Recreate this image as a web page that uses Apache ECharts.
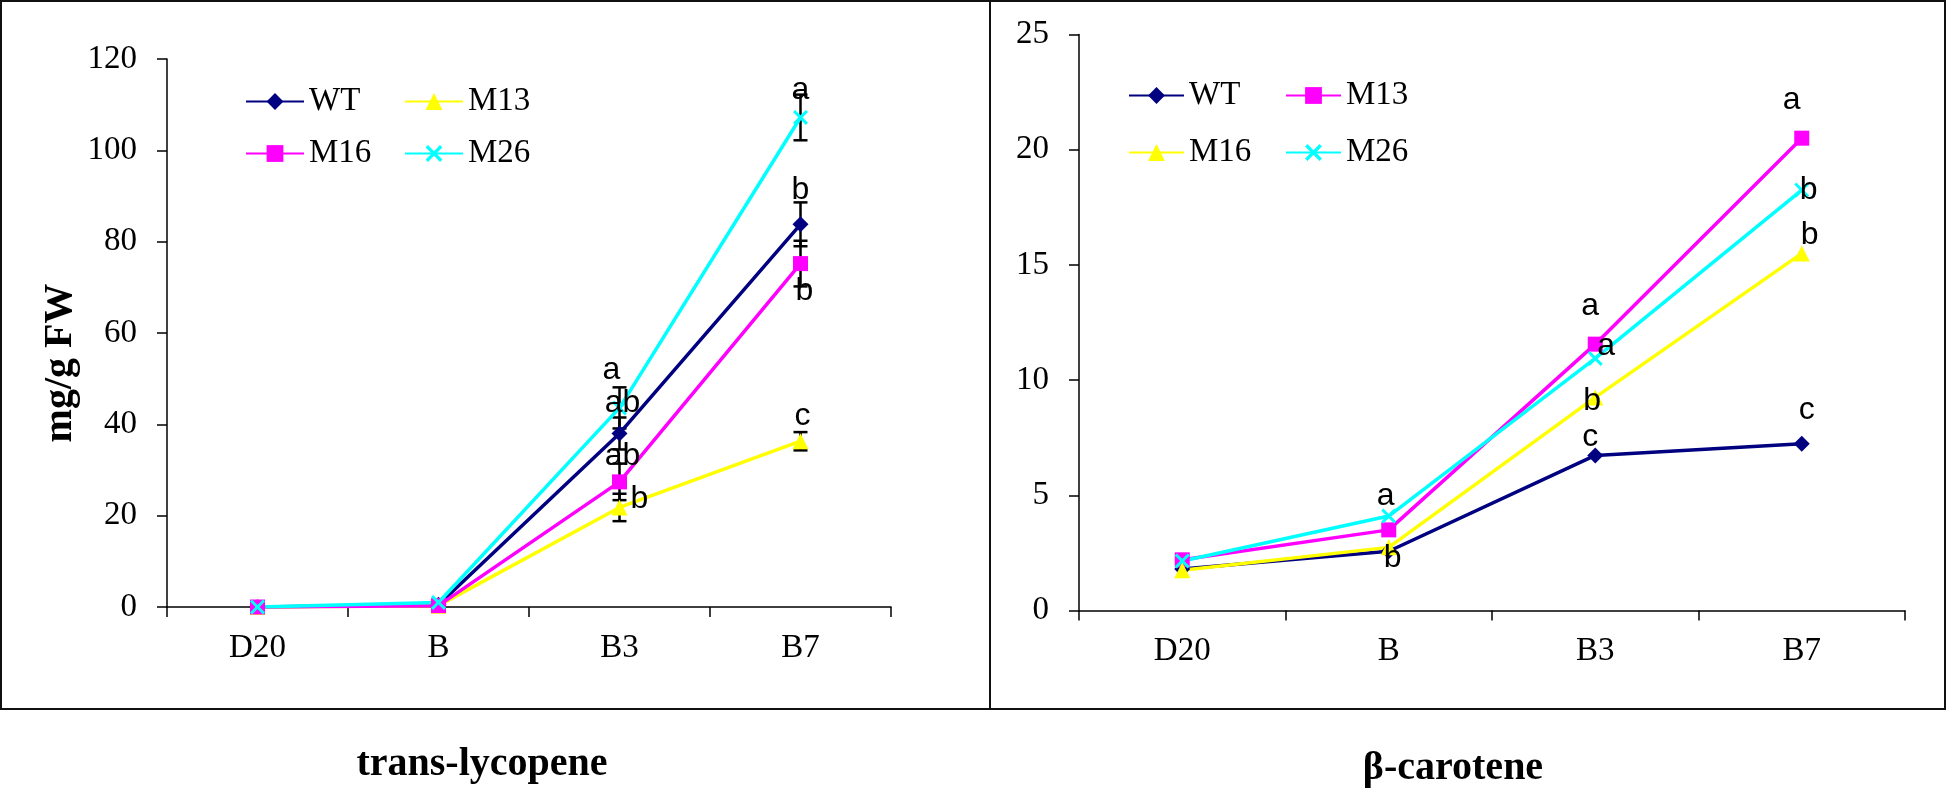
<!DOCTYPE html>
<html>
<head>
<meta charset="utf-8">
<script src="https://cdn.jsdelivr.net/npm/echarts@6/dist/echarts.min.js"></script>
<style>
  html, body { margin: 0; padding: 0; background: #fff; }
  #chart { width: 1947px; height: 793px; }
</style>
</head>
<body>
<div id="chart"></div>
<script>
// ---------------- DATA ----------------
const categories = ['D20', 'B', 'B3', 'B7'];

// trans-lycopene (mg/g FW)
const lycWT  = [0, 0.5, 38.0, 83.8];
const lycM13 = [0, 0.3, 21.8, 36.3];
const lycM16 = [0, 0.3, 27.4, 75.2];
const lycM26 = [0, 1.0, 43.6, 107.2];
const lycErrWT  = [0, 0, 3.5, 4.8];
const lycErrM13 = [0, 0, 3.0, 2.0];
const lycErrM16 = [0, 0, 4.0, 5.0];
const lycErrM26 = [0, 0, 4.5, 5.0];
const lycLetWT  = ['', '', 'ab', 'b'];
const lycLetM13 = ['', '', 'b', 'c'];
const lycLetM16 = ['', '', 'ab', 'b'];
const lycLetM26 = ['', '', 'a', 'a'];
const lycTicks = { min: 0, max: 120, interval: 20 };

// beta-carotene
const carWT  = [1.8, 2.57, 6.73, 7.24];
const carM13 = [2.2, 3.5, 11.56, 20.5];
const carM16 = [1.75, 2.74, 9.25, 15.5];
const carM26 = [2.15, 4.1, 10.94, 18.25];
const carLetWT  = ['', 'b', 'c', 'c'];
const carLetM13 = ['', '', 'a', 'a'];
const carLetM16 = ['', '', 'b', 'b'];
const carLetM26 = ['', 'a', 'a', 'b'];
const carTicks = { min: 0, max: 25, interval: 5 };

const seriesNames = ['WT', 'M13', 'M16', 'M26'];
const titleLyc = 'trans-lycopene';
const titleCar = 'β-carotene';
const yName = 'mg/g FW';

// ---------------- STYLE / LAYOUT ----------------
const SERIF = '"Liberation Serif", "Times New Roman", serif';
const SANS = '"Liberation Sans", Arial, sans-serif';
const NAVY = '#000080', YELLOW = '#FFFF00', MAGENTA = '#FF00FF', CYAN = '#00FFFF';
const XSYM = 'path://M0,1.4 L1.4,0 L5,3.6 L8.6,0 L10,1.4 L6.4,5 L10,8.6 L8.6,10 L5,6.4 L1.4,10 L0,8.6 L3.6,5 Z';

// label offsets (text centre relative to point), per series per category
const lycOff = {
  WT:  [null, null, [3, -30], [0, -34]],
  M13: [null, null, [20, -8], [2, -25]],
  M16: [null, null, [3, -26], [4, 28]],
  M26: [null, null, [-8, -38], [0, -27]]
};
const carOff = {
  WT:  [null, [4, 7], [-5, -18], [5, -34]],
  M13: [null, null, [-5, -38], [-10, -38]],
  M16: [null, null, [-3, 4], [8, -18]],
  M26: [null, [-3, -20], [11, -12], [7, 0]]
};

const lycStyle = {
  WT:  { color: NAVY, symbol: 'diamond', size: 16 },
  M13: { color: YELLOW, symbol: 'triangle', size: 16 },
  M16: { color: MAGENTA, symbol: 'rect', size: 15 },
  M26: { color: CYAN, symbol: XSYM, size: 15 }
};
const carStyle = {
  WT:  { color: NAVY, symbol: 'diamond', size: 16 },
  M13: { color: MAGENTA, symbol: 'rect', size: 15 },
  M16: { color: YELLOW, symbol: 'triangle', size: 16 },
  M26: { color: CYAN, symbol: XSYM, size: 15 }
};

function makeLine(prefix, name, values, letters, offs, st, axisIdx) {
  return {
    name: prefix + ':' + name,
    type: 'line',
    xAxisIndex: axisIdx, yAxisIndex: axisIdx,
    symbol: st.symbol, symbolSize: st.size,
    itemStyle: { color: st.color },
    lineStyle: { color: st.color, width: 3.5 },
    z: 3,
    data: values.map((v, i) => ({
      value: v,
      label: {
        show: !!letters[i],
        formatter: letters[i] || '',
        position: 'inside',
        offset: offs[i] || [0, 0],
        color: '#000',
        fontFamily: SANS,
        fontSize: 32,
        lineHeight: 32
      }
    })),
    emphasis: { disabled: true },
    animation: false
  };
}

function makeErr(values, errs, axisIdx) {
  const data = [];
  values.forEach((v, i) => { if (errs[i] > 0) data.push([i, v - errs[i], v + errs[i]]); });
  return {
    type: 'custom',
    xAxisIndex: axisIdx, yAxisIndex: axisIdx,
    z: 2,
    silent: true,
    animation: false,
    data: data,
    renderItem: function (params, api) {
      const top = api.coord([api.value(0), api.value(2)]);
      const bot = api.coord([api.value(0), api.value(1)]);
      const w = 7;
      const st = { stroke: '#000', lineWidth: 2.5 };
      return {
        type: 'group',
        children: [
          { type: 'line', shape: { x1: top[0], y1: top[1], x2: bot[0], y2: bot[1] }, style: st },
          { type: 'line', shape: { x1: top[0] - w, y1: top[1], x2: top[0] + w, y2: top[1] }, style: st },
          { type: 'line', shape: { x1: bot[0] - w, y1: bot[1], x2: bot[0] + w, y2: bot[1] }, style: st }
        ]
      };
    }
  };
}

function axisPair(ticks) {
  return {
    x: {
      type: 'category', data: categories, boundaryGap: true,
      axisLine: { lineStyle: { color: '#000', width: 1.5 } },
      axisTick: { show: true, length: 10, lineStyle: { color: '#000', width: 1.5 } },
      axisLabel: { color: '#000', fontFamily: SERIF, fontSize: 33, lineHeight: 32, margin: 25 },
      splitLine: { show: false }
    },
    y: {
      type: 'value', min: ticks.min, max: ticks.max, interval: ticks.interval,
      axisLine: { show: true, lineStyle: { color: '#000', width: 1.5 } },
      axisTick: { show: true, length: 10, lineStyle: { color: '#000', width: 1.5 } },
      axisLabel: { color: '#000', fontFamily: SERIF, fontSize: 33, margin: 30 },
      splitLine: { show: false }
    }
  };
}

const lycAx = axisPair(lycTicks);
const carAx = axisPair(carTicks);

function legendAt(prefix, name, left, top, iw) {
  return {
    data: [prefix + ':' + name],
    left: left, top: top,
    padding: 0,
    itemWidth: iw, itemHeight: 21,
    selectedMode: false,
    formatter: n => n.split(':')[1],
    textStyle: { color: '#000', fontFamily: SERIF, fontSize: 33, lineHeight: 32 }
  };
}

const series = [];
seriesNames.forEach(n => {
  const vals = { WT: lycWT, M13: lycM13, M16: lycM16, M26: lycM26 }[n];
  const errs = { WT: lycErrWT, M13: lycErrM13, M16: lycErrM16, M26: lycErrM26 }[n];
  const lets = { WT: lycLetWT, M13: lycLetM13, M16: lycLetM16, M26: lycLetM26 }[n];
  series.push(makeErr(vals, errs, 0));
  series.push(makeLine('lyc', n, vals, lets, lycOff[n], lycStyle[n], 0));
});
seriesNames.forEach(n => {
  const vals = { WT: carWT, M13: carM13, M16: carM16, M26: carM26 }[n];
  const lets = { WT: carLetWT, M13: carLetM13, M16: carLetM16, M26: carLetM26 }[n];
  series.push(makeLine('car', n, vals, lets, carOff[n], carStyle[n], 1));
});

const option = {
  backgroundColor: '#fff',
  animation: false,
  grid: [
    { left: 167, top: 59, width: 724, height: 548, containLabel: false },
    { left: 1079, top: 34.5, width: 826, height: 576, containLabel: false }
  ],
  xAxis: [Object.assign({ gridIndex: 0 }, lycAx.x), Object.assign({ gridIndex: 1 }, carAx.x)],
  yAxis: [Object.assign({ gridIndex: 0 }, lycAx.y), Object.assign({ gridIndex: 1 }, carAx.y)],
  legend: [
    legendAt('lyc', 'WT', 245, 85, 58),
    legendAt('lyc', 'M13', 404, 85, 58),
    legendAt('lyc', 'M16', 245, 137, 58),
    legendAt('lyc', 'M26', 404, 137, 58),
    legendAt('car', 'WT', 1128, 79, 55),
    legendAt('car', 'M13', 1285, 79, 55),
    legendAt('car', 'M16', 1128, 136, 55),
    legendAt('car', 'M26', 1285, 136, 55)
  ],
  graphic: [
    { type: 'rect', shape: { x: 1, y: 1, width: 1944, height: 708 }, style: { fill: 'none', stroke: '#111', lineWidth: 2 }, silent: true, z: 0 },
    { type: 'line', shape: { x1: 990, y1: 0, x2: 990, y2: 709 }, style: { stroke: '#111', lineWidth: 2 }, silent: true, z: 0 },
    { type: 'text', x: 482, y: 765, style: { text: titleLyc, font: 'bold 40px ' + SERIF, fill: '#000', textAlign: 'center', textVerticalAlign: 'middle' }, silent: true },
    { type: 'text', x: 1453, y: 769, style: { text: titleCar, font: 'bold 40px ' + SERIF, fill: '#000', textAlign: 'center', textVerticalAlign: 'middle' }, silent: true },
    { type: 'text', x: 61, y: 363, rotation: Math.PI / 2, style: { text: yName, font: 'bold 40px ' + SERIF, fill: '#000', textAlign: 'center', textVerticalAlign: 'middle' }, silent: true }
  ],
  series: series
};

const chart = echarts.init(document.getElementById('chart'), null, { renderer: 'canvas' });
chart.setOption(option);
</script>
</body>
</html>
